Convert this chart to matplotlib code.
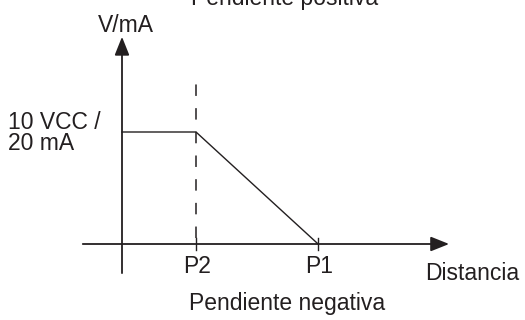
import matplotlib

matplotlib.use("Agg")
import matplotlib.pyplot as plt

# Characteristic curve: output vs distance (P2 = near limit, P1 = far limit)
point_labels = ["P2", "P1"]
point_dist = [1.0, 2.65]
curve_dist = [0.0, 1.0, 2.65]
curve_out = [10.0, 10.0, 0.0]
max_label = "10 VCC /\n20 mA"

INK = "#231f20"
FS = 16.5
plt.rcParams["font.family"] = ["Liberation Sans", "DejaVu Sans"]

W, H = 525, 320
fig = plt.figure(figsize=(W / 100, H / 100), dpi=100)
ax = fig.add_axes([0, 0, 1, 1])
ax.axis("off")

# 74 px per distance unit, origin at x=122; 11.2 px per output unit, origin at y=244
ax.set_xlim(-122 / 74, (W - 122) / 74)
ax.set_ylim(-(H - 244) / 11.2, 244 / 11.2)

arrow = dict(arrowstyle="-|>,head_length=0.8,head_width=0.32", lw=1.3,
             color=INK, shrinkA=0, shrinkB=0, mutation_scale=14)
# x axis
ax.annotate("", xy=(4.42, 0), xytext=(-0.53, 0), arrowprops=arrow)
# y axis
ax.annotate("", xy=(0, 18.5), xytext=(0, -2.6), arrowprops=arrow)

# curve
ax.plot(curve_dist, curve_out, color=INK, lw=1.0, solid_joinstyle="miter")

# dashed marker at P2, ticks at both points
ax.plot([point_dist[0]] * 2, [0.5, 14.45], color=INK, lw=1.1,
        dashes=(7.5, 8))
for d, lab in zip(point_dist, point_labels):
    ax.plot([d, d], [-0.55, 0.55], color=INK, lw=1.0)
    ax.text(d + 0.02, -2.6, lab, ha="center", va="baseline",
            fontsize=FS, color=INK)

# baseline of the last line
ax.text(8 / W, 1 - 150.5 / H, max_label, transform=fig.transFigure,
        ha="left", va="baseline", fontsize=FS, color=INK, linespacing=0.92)

ax.text(125.5 / W, 1 - 31.5 / H, "V/mA", transform=fig.transFigure,
        ha="center", va="baseline", fontsize=FS, color=INK)
ax.text(425 / W, 1 - 280 / H, "Distancia", transform=fig.transFigure,
        ha="left", va="baseline", fontsize=FS, color=INK)
ax.text(285 / W, 1 - 5 / H, "Pendiente positiva", transform=fig.transFigure,
        ha="center", va="baseline", fontsize=FS, color=INK)
ax.text(287.5 / W, 1 - 310 / H, "Pendiente negativa", transform=fig.transFigure,
        ha="center", va="baseline", fontsize=FS, color=INK)

fig.savefig("out.png", dpi=100)
